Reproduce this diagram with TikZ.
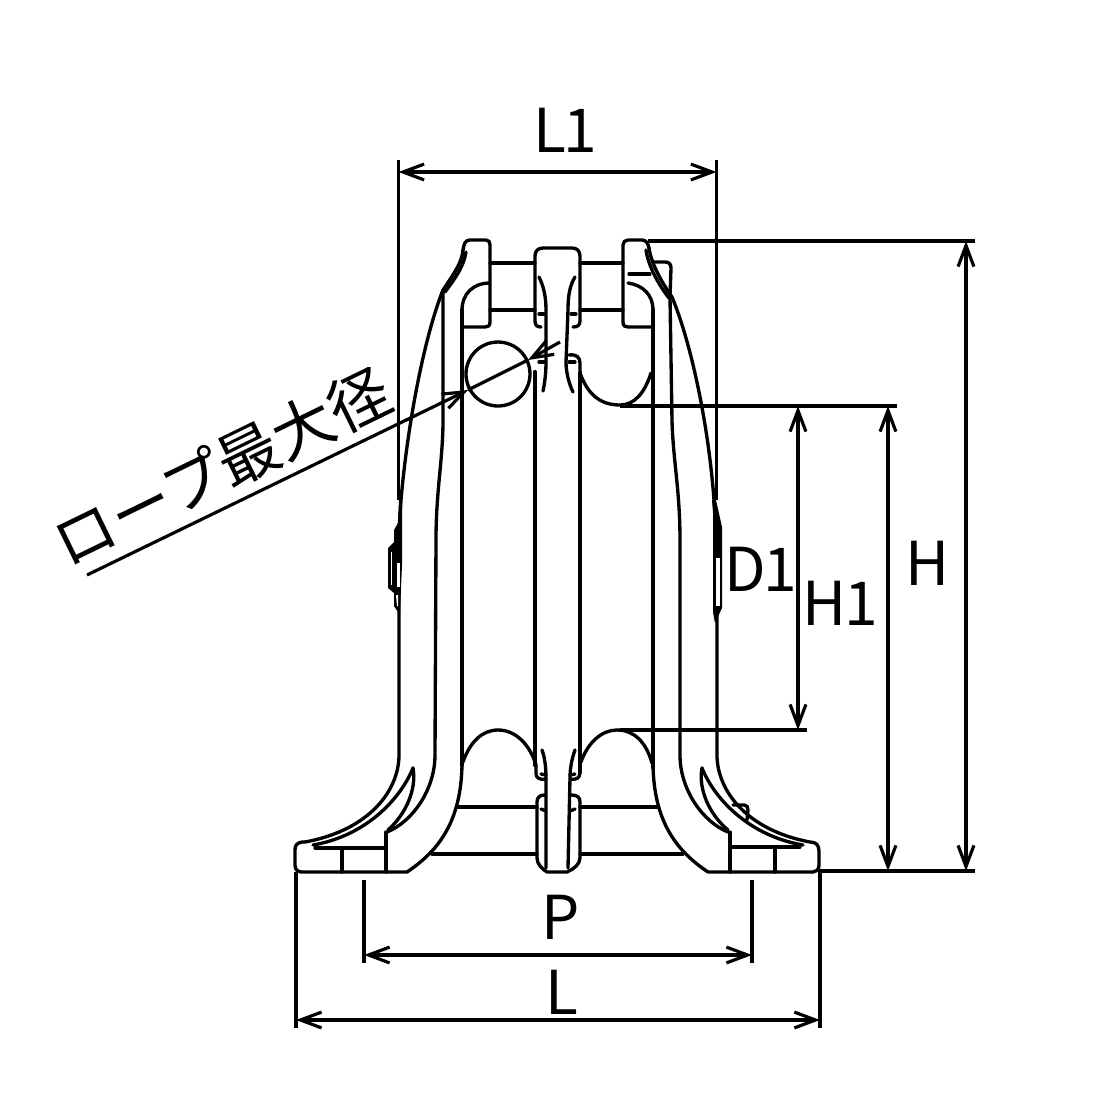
\documentclass[tikz,border=0pt]{standalone}
\usepackage{fontspec}
\setmainfont{Noto Sans CJK JP}
\newfontfamily\dimfont[LetterSpace=-4]{Noto Sans CJK JP}
\usetikzlibrary{arrows.meta}
\tikzset{
  part/.style={line width=0.95pt,line cap=round,line join=round},
  heavy/.style={line width=1.25pt,line cap=round,line join=round},
  dim/.style={line width=0.9pt,{Straight Barb[length=6pt,width=4.5pt]}-{Straight Barb[length=6pt,width=4.5pt]}},
  ext/.style={line width=0.9pt},
  lab/.style={inner sep=0pt,font=\fontsize{17.2}{20}\selectfont\dimfont,text=black},
  roplab/.style={inner sep=0pt,font=\fontsize{17.5}{20}\selectfont,text=black}
}
\begin{document}
\begin{tikzpicture}[x=0.01cm,y=-0.01cm]
\useasboundingbox (0,0) rectangle (1120,1120);
\fill[white] (0,0) rectangle (1120,1120);
% top pin
\draw[part] (490,263) -- (535,263) (490,310) -- (535,310) (580,263) -- (623,263) (580,310) -- (623,310);
% left top head
\draw[part] (463,250) .. controls (464,244) and (465,240) .. (470,240) -- (486,240) .. controls (489,240) and (490,242) .. (490,245) -- (490,322) .. controls (490,326) and (488,327) .. (485,327) -- (462,327);
\draw[part] (490,283) .. controls (473,283) and (462,294) .. (462,310);
% right top head
\draw[part] (649,248) .. controls (648,243) and (646,240) .. (642,240) -- (628,240) .. controls (625,240) and (623,242) .. (623,245) -- (623,322) .. controls (623,326) and (625,327) .. (628,327) -- (653,327);
\draw[part] (628,283) .. controls (642,285) and (653,294) .. (653,310);
\draw[part] (629,274) -- (650,274);
\draw[part] (653,262) -- (665,262) .. controls (669,262) and (671,264) .. (671,268) -- (670,297);
% central top block
\draw[part] (541,327) .. controls (537,327) and (535,325) .. (535,321) -- (535,256) .. controls (535,251) and (538,248) .. (543,248) -- (572,248) .. controls (577,248) and (580,251) .. (580,256) -- (580,321) .. controls (580,325) and (578,327) .. (573,327);
% central slivers, top
\draw[part] (539,277) .. controls (543,285) and (546,295) .. (546,310) -- (546,362);
\draw[part] (546,362) .. controls (546,372) and (545,382) .. (543,391);
\draw[part] (575,277) .. controls (570,285) and (568,295) .. (568,310) -- (566,362) .. controls (566,372) and (569,384) .. (573,392);
\draw[part] (539,314) -- (544,314) (571,314) -- (576,314) (539,362) -- (544,362) (569,362) -- (575,362);
\draw[part] (569,355) .. controls (576,354) and (580,357) .. (580,363) -- (580,373);
% wire circle
\draw[part] (498,374) circle[radius=32];
% sheave walls
\draw[heavy] (462,310) -- (462,765);
\draw[heavy] (535,372) -- (535,765);
\draw[heavy] (580,373) -- (580,772);
\draw[heavy] (653,310) -- (653,767);
% upper right groove
\draw[part] (580,373) .. controls (587,392) and (598,405) .. (620,405) .. controls (635,405) and (645,392) .. (651,373);
% lower grooves
\draw[part] (463,762) .. controls (470,742) and (482,730) .. (498,730) .. controls (516,730) and (530,745) .. (536,765);
\draw[part] (581,762) .. controls (588,742) and (602,730) .. (617,730) .. controls (634,730) and (646,742) .. (652,763);
% central bottom
\draw[part] (542,750) .. controls (545,758) and (546,768) .. (546,778) -- (546,868);
\draw[part] (575,750) .. controls (572,758) and (570,768) .. (570,778) -- (568,868);
\draw[part] (536,765) -- (536,773) .. controls (536,778) and (539,780) .. (546,779);
\draw[part] (580,772) .. controls (580,778) and (577,780) .. (570,779);
\draw[part] (545,795) .. controls (540,795) and (537,797) .. (537,802) -- (537,858) .. controls (537,864) and (542,869) .. (547,872) -- (567,872) .. controls (574,869) and (580,864) .. (580,858) -- (580,802) .. controls (580,797) and (577,795) .. (571,795);
\draw[part] (541,774) -- (546,775) (570,775) -- (575,774) (541,809) -- (546,811) (570,811) -- (575,809);
% bars between frame and bottom block
\draw[part] (458,807) -- (537,807) (432,854) -- (537,854) (580,807) -- (657,807) (580,854) -- (683,854);
% left frame
\draw[part] (463,250) .. controls (462,262) and (455,272) .. (443,290);
\draw[part] (466,252) .. controls (464,265) and (457,276) .. (445,292);
\draw[part] (443,290) .. controls (425,335) and (408,420) .. (401,500) -- (399,530) -- (399,755) .. controls (399,790) and (370,830) .. (305,842);
\draw[part] (443,290) -- (443,420) .. controls (443,460) and (436,490) .. (436,540) -- (435,755) .. controls (435,790) and (412,822) .. (387,832);
\draw[part] (413,768) .. controls (400,800) and (365,836) .. (313,845);
\draw[part] (413,768) .. controls (417,790) and (405,815) .. (388,830);
\draw[part] (315,848) -- (386,848);
\draw[part] (305,842) -- (302,842) .. controls (297,843) and (295,845) .. (295,850) -- (295,865) .. controls (295,870) and (298,872) .. (302,872) -- (407,872) .. controls (440,850) and (461,820) .. (462,765);
\draw[part] (342,848) -- (342,872) (386,832) -- (386,872);
% right frame
\draw[part] (649,248) .. controls (651,262) and (660,280) .. (672,297);
\draw[part] (646,250) .. controls (648,265) and (658,284) .. (669,298);
\draw[part] (672,297) .. controls (690,340) and (708,420) .. (714,500) -- (717,530) -- (717,755) .. controls (717,790) and (746,830) .. (810,842) .. controls (816,842) and (819,845) .. (819,851) -- (819,865) .. controls (819,870) and (816,872) .. (813,872) -- (708,872) .. controls (675,850) and (654,820) .. (653,765);
\draw[part] (670,297) -- (672,420) .. controls (673,460) and (680,490) .. (680,540) -- (680,755) .. controls (680,790) and (703,822) .. (728,832);
\draw[part] (702,768) .. controls (715,800) and (750,836) .. (803,845);
\draw[part] (702,768) .. controls (698,790) and (710,815) .. (728,830);
\draw[part] (730,847) -- (800,847);
\draw[part] (730,832) -- (730,872) (775,848) -- (775,872);
\draw[part] (733,805) -- (744,805) .. controls (747,805) and (748,807) .. (748,810) -- (747,820);
% side fittings
\fill[black] (398,523) -- (394,530) -- (394,542) -- (388,548) -- (388,588) -- (394,593) -- (394,606) -- (398,612) -- (400,612) -- (402,565) -- (402,500) -- (399,500) -- cycle;
\fill[white] (391,552) -- (391,585) -- (392,585) -- (392,552) -- cycle;
\fill[white] (397,563) rectangle (400,587);
\fill[white] (396,595) -- (397,606) -- (398,606) -- (398,595) -- cycle;
\fill[black] (712,500) -- (713,513) -- (713,612) -- (715,623) -- (722,608) -- (722,527) -- (716,500) -- cycle;
\fill[white] (716,558) rectangle (719.5,606);
% dimension lines
\coordinate (L1a) at (398.5,172); \coordinate (L1b) at (716.5,172);
\coordinate (Ha) at (966,241); \coordinate (Hb) at (966,871);
\coordinate (H1a) at (888,406); \coordinate (H1b) at (888,871);
\coordinate (D1a) at (798,406); \coordinate (D1b) at (798,730);
\coordinate (Pa) at (364,955); \coordinate (Pb) at (752,955);
\coordinate (La) at (296,1020); \coordinate (Lb) at (820,1020);
\coordinate (Ra) at (87,575); \coordinate (Rb) at (468,390); \coordinate (Rc) at (528,360); \coordinate (Rd) at (560,342);
\draw[dim] (L1a) -- (L1b);
\draw[dim] (Ha) -- (Hb);
\draw[dim] (H1a) -- (H1b);
\draw[dim] (D1a) -- (D1b);
\draw[dim] (Pa) -- (Pb);
\draw[dim] (La) -- (Lb);
\draw[ext] (398.5,160) -- (398.5,500) (716.5,160) -- (716.5,500);
\draw[ext] (648,241) -- (975,241) (818,871) -- (975,871);
\draw[ext] (620,406) -- (897,406) (620,730) -- (807,730);
\draw[ext] (364,880) -- (364,963) (752,880) -- (752,963);
\draw[ext] (296,872) -- (296,1028) (820,872) -- (820,1028);
\draw[ext,-{Straight Barb[length=6pt,width=4.5pt]}] (Ra) -- (Rb);
\draw[ext] (Rb) -- (Rc);
\draw[ext,-{Straight Barb[length=6pt,width=4.5pt]}] (Rd) -- (Rc);
% labels
\node[lab] (tL1) at (565,130) {L1};
\node[lab] (tD1) at (761,569) {D1};
\node[lab] (tH1) at (840,603) {H1};
\node[lab] (tH) at (928,563) {H};
\node[lab] (tP) at (561,917) {P};
\node[lab] (tL) at (562,992) {L};
\node[roplab,rotate=26] (tR) at (222,467) {ロープ最大径};
\end{tikzpicture}
\end{document}
